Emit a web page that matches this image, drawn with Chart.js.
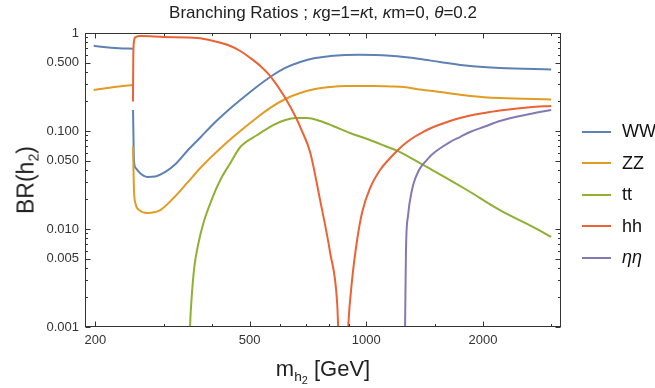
<!DOCTYPE html>
<html lang="en">
<head>
<meta charset="UTF-8">
<title>Branching Ratios</title>
<style>
    body { margin: 0; background: #fff; }
    #wrap {
        position: relative;
        width: 655px;
        height: 388px;
        overflow: hidden;
        font-family: "Liberation Sans", Arial, sans-serif;
        color: #222;
    }
    #chart { position: absolute; left: 0; top: 0; }
    .title {
        position: absolute; top: 3px; left: 85px; width: 476px;
        text-align: center; font-size: 17px; white-space: nowrap;
    }
    .ylab {
        position: absolute; left: 27px; top: 180px;
        transform: translate(-50%, -50%) rotate(-90deg);
        font-size: 23px; white-space: nowrap;
    }
    .xlab {
        position: absolute; left: 323px; top: 371px;
        transform: translate(-50%, -50%);
        font-size: 22px; white-space: nowrap;
    }
    .xlab sub, .ylab sub { font-size: 0.62em; vertical-align: -0.35em; }
    .xlab sub sub { font-size: 0.8em; vertical-align: -0.25em; }
    .legend { position: absolute; left: 582px; top: 116px; }
    .legend .row { height: 31.5px; display: flex; align-items: center; font-size: 18px; color: #111; white-space: nowrap; }
    .legend .swatch { width: 29px; height: 2px; margin-right: 11px; flex: none; }
</style>
</head>
<body>
<div id="wrap">
    <canvas id="chart" width="655" height="388"></canvas>
    <div class="title">Branching Ratios ; <i>κ</i>g=1=<i>κ</i>t, <i>κ</i>m=0, <i>θ</i>=0.2</div>
    <div class="ylab">BR(h<sub>2</sub>)</div>
    <div class="xlab">m<sub>h<sub>2</sub></sub> [GeV]</div>
    <div class="legend" id="legend"></div>
</div>
<script src="https://cdn.jsdelivr.net/npm/chart.js"></script>
<script>
    // h2 masses (GeV) and branching ratios per channel; null breaks the line at the hh threshold
    const wwMass = [198, 210, 230, 249.9, 250, 250.1, 251.5, 254, 261, 272, 285, 303, 322, 345, 373, 403, 438, 473, 517, 565, 618, 675, 738, 807, 882, 960, 1054, 1152, 1250, 1376, 1549, 1852, 2212, 3000];
    const wwBr = [0.74, 0.72, 0.70, 0.69, null, 0.164, 0.05, 0.042, 0.037, 0.034, 0.0343, 0.0382, 0.046, 0.0625, 0.0858, 0.118, 0.16, 0.207, 0.275, 0.356, 0.44, 0.506, 0.556, 0.582, 0.596, 0.60, 0.596, 0.585, 0.569, 0.543, 0.506, 0.46, 0.439, 0.425];

    const zzMass = [198, 215, 230, 249.9, 250, 250.1, 251.5, 254, 260, 272, 294, 318, 345, 373, 403, 438, 473, 517, 565, 618, 675, 738, 807, 882, 1054, 1152, 1250, 1376, 1549, 1852, 2212, 3000];
    const zzBr = [0.262, 0.275, 0.285, 0.295, null, 0.069, 0.025, 0.018, 0.0155, 0.0146, 0.0156, 0.0207, 0.0295, 0.0419, 0.0569, 0.0772, 0.1, 0.1326, 0.172, 0.212, 0.244, 0.268, 0.281, 0.288, 0.288, 0.285, 0.281, 0.265, 0.25, 0.228, 0.217, 0.21];

    const ttMass = [347, 351, 354, 360, 369, 380, 396, 420, 446, 473, 523, 575, 618, 656, 704, 760, 821, 908, 1005, 1118, 1222, 1401, 1644, 1819, 2212, 2692, 3000];
    const ttBr = [0.0001, 0.001, 0.0019, 0.0041, 0.0072, 0.0115, 0.0184, 0.0316, 0.0472, 0.0687, 0.091, 0.115, 0.1295, 0.136, 0.136, 0.1265, 0.1125, 0.0954, 0.0829, 0.0703, 0.061, 0.045, 0.0316, 0.025, 0.0156, 0.0105, 0.0083];

    const hhMass = [250.02, 250.5, 251.5, 254, 262, 300, 366, 403, 446, 473, 502, 533, 565, 618, 663, 675, 716, 760, 807, 841, 846, 868, 898, 919, 947, 976, 1023, 1085, 1152, 1222, 1274, 1336, 1401, 1460, 1549, 1644, 1766, 1907, 2084, 2212, 2644, 3000];
    const hhBr = [0.2, 0.6, 0.82, 0.91, 0.93, 0.91, 0.889, 0.829, 0.737, 0.655, 0.556, 0.46, 0.364, 0.217, 0.1295, 0.110, 0.061, 0.0197, 0.00569, 0.00176, 0.001, 0.00003, 0.001, 0.00302, 0.00772, 0.0149, 0.0262, 0.040, 0.053, 0.0671, 0.0772, 0.0879, 0.0977, 0.106, 0.1165, 0.1265, 0.1374, 0.147, 0.156, 0.162, 0.175, 0.180];

    const etaMass = [1250.5, 1259, 1266, 1282, 1312, 1328, 1360, 1384, 1418, 1460, 1504, 1568, 1644, 1745, 1852, 2024, 2212, 2644, 3000];
    const etaBr = [0.0002, 0.001, 0.0061, 0.0139, 0.025, 0.0302, 0.0382, 0.043, 0.0483, 0.055, 0.061, 0.0687, 0.0772, 0.0868, 0.0977, 0.111, 0.1265, 0.149, 0.164];

    const channels = ['WW', 'ZZ', 'tt', 'hh', 'ηη'];
    const colors = ['#5E81B5', '#E19C24', '#8FB032', '#EB6235', '#8778B3'];

    // axis ticks
    const xMajor = [200, 500, 1000, 2000];
    const xMinor = [300, 400, 600, 700, 800, 900, 1500, 3000];
    const yMajor = [0.001, 0.005, 0.01, 0.05, 0.1, 0.5, 1];
    const yLabels = ['0.001', '0.005', '0.010', '0.050', '0.100', '0.500', '1'];
    const yMinor = [];
    [0.001, 0.01, 0.1].forEach(d => [2, 3, 4, 6, 7, 8, 9].forEach(k => yMinor.push(k * d)));

    function points(ms, vs) {
        return ms.map((m, i) => ({ x: m, y: vs[i] }));
    }

    const series = [
        points(wwMass, wwBr),
        points(zzMass, zzBr),
        points(ttMass, ttBr),
        points(hhMass, hhBr),
        points(etaMass, etaBr)
    ];

    // legend
    const legend = document.getElementById('legend');
    channels.forEach((name, i) => {
        const row = document.createElement('div');
        row.className = 'row';
        const sw = document.createElement('span');
        sw.className = 'swatch';
        sw.style.background = colors[i];
        const label = document.createElement('span');
        label.textContent = name;
        if (name === 'ηη') label.style.fontStyle = 'italic';
        row.appendChild(sw);
        row.appendChild(label);
        legend.appendChild(row);
    });

    // frame with inward ticks on all four sides
    const frameTicks = {
        id: 'frameTicks',
        afterDatasetsDraw(chart) {
            const { ctx, chartArea: a, scales: { x, y } } = chart;
            const L = Math.round(a.left) + 0.5, R = Math.round(a.right) - 0.5;
            const T = Math.round(a.top) + 0.5, B = Math.round(a.bottom) - 0.5;
            ctx.save();
            ctx.strokeStyle = '#333';
            ctx.lineWidth = 1;
            ctx.strokeRect(L, T, R - L, B - T);
            ctx.beginPath();
            const xt = (v, len) => {
                const p = Math.round(x.getPixelForValue(v)) + 0.5;
                ctx.moveTo(p, B); ctx.lineTo(p, B - len);
                ctx.moveTo(p, T); ctx.lineTo(p, T + len);
            };
            const yt = (v, len) => {
                const p = Math.round(y.getPixelForValue(v)) + 0.5;
                ctx.moveTo(L, p); ctx.lineTo(L + len, p);
                ctx.moveTo(R, p); ctx.lineTo(R - len, p);
            };
            xMajor.forEach(v => xt(v, 5));
            xMinor.forEach(v => xt(v, 2.5));
            yMajor.forEach(v => yt(v, 5));
            yMinor.forEach(v => yt(v, 2.5));
            ctx.stroke();
            ctx.restore();
        }
    };

    const tickFont = { family: '"Liberation Sans", Arial, sans-serif', size: 13 };

    new Chart(document.getElementById('chart'), {
        type: 'scatter',
        data: {
            datasets: series.map((data, i) => ({
                label: channels[i],
                data: data,
                showLine: true,
                borderColor: colors[i],
                backgroundColor: colors[i],
                borderWidth: 2,
                pointRadius: 0,
                spanGaps: false,
                cubicInterpolationMode: 'monotone',
                order: channels.length - i
            }))
        },
        options: {
            responsive: false,
            animation: false,
            devicePixelRatio: 1,
            layout: { padding: { top: 33, right: 94, left: 0, bottom: 0 } },
            plugins: {
                legend: { display: false },
                tooltip: { enabled: false },
                title: { display: false }
            },
            scales: {
                x: {
                    type: 'logarithmic',
                    min: 188,
                    max: 3180,
                    grid: { display: false, drawTicks: false },
                    border: { display: false },
                    afterFit: s => { s.height = 61; },
                    afterBuildTicks: s => { s.ticks = xMajor.map(v => ({ value: v })); },
                    ticks: {
                        font: tickFont,
                        color: '#333',
                        padding: 6,
                        maxRotation: 0,
                        autoSkip: false,
                        callback: v => String(v)
                    }
                },
                y: {
                    type: 'logarithmic',
                    min: 0.001,
                    max: 1,
                    grid: { display: false, drawTicks: false },
                    border: { display: false },
                    afterFit: s => { s.width = 85; },
                    afterBuildTicks: s => { s.ticks = yMajor.map(v => ({ value: v })); },
                    ticks: {
                        font: tickFont,
                        color: '#333',
                        padding: 6,
                        autoSkip: false,
                        callback: v => yLabels[yMajor.indexOf(v)] ?? ''
                    }
                }
            }
        },
        plugins: [frameTicks]
    });
</script>
</body>
</html>
